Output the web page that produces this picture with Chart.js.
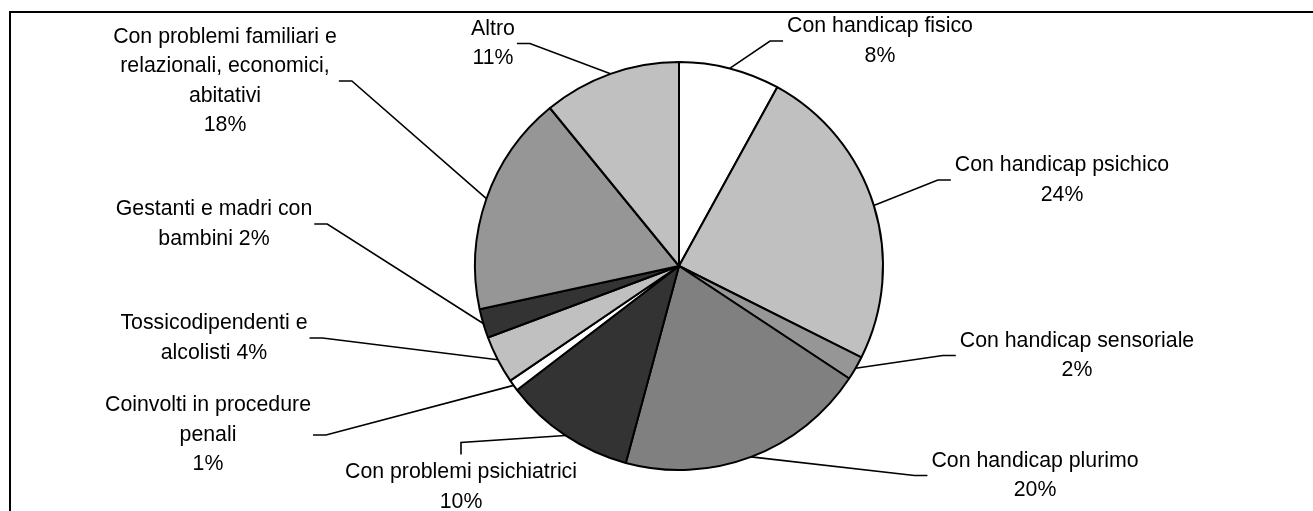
<!DOCTYPE html>
<html>
<head>
<meta charset="utf-8">
<title>Utenti per tipologia</title>
<script src="https://cdn.jsdelivr.net/npm/chart.js@4.4.1/dist/chart.umd.min.js"></script>
<style>
  html, body { margin: 0; padding: 0; background: #fff; overflow: hidden; }
  #wrap { position: relative; width: 1313px; height: 511px; }
  #frame { position: absolute; left: 9px; top: 11px; width: 1330px; height: 530px;
           border: 2px solid #000; box-sizing: border-box; pointer-events: none; }
</style>
</head>
<body>
<div id="wrap">
  <canvas id="chart" width="1313" height="511"></canvas>
  <div id="frame"></div>
</div>
<script>
// categories, clockwise from 12 o'clock
const categories = [
  "Con handicap fisico",
  "Con handicap psichico",
  "Con handicap sensoriale",
  "Con handicap plurimo",
  "Con problemi psichiatrici",
  "Coinvolti in procedure penali",
  "Tossicodipendenti e alcolisti",
  "Gestanti e madri con bambini",
  "Con problemi familiari e relazionali, economici, abitativi",
  "Altro"
];

// share of users (%)
const shares = [8.0, 24.4, 1.9, 19.9, 10.4, 0.9, 3.8, 2.3, 17.5, 10.9];

// how each label is wrapped, {p} = percentage
const labelLines = [
  ["Con handicap fisico", "{p}"],
  ["Con handicap psichico", "{p}"],
  ["Con handicap sensoriale", "{p}"],
  ["Con handicap plurimo", "{p}"],
  ["Con problemi psichiatrici", "{p}"],
  ["Coinvolti in procedure", "penali", "{p}"],
  ["Tossicodipendenti e", "alcolisti {p}"],
  ["Gestanti e madri con", "bambini {p}"],
  ["Con problemi familiari e", "relazionali, economici,", "abitativi", "{p}"],
  ["Altro", "{p}"]
];

const sliceColors = ["#FFFFFF", "#C0C0C0", "#969696", "#808080", "#333333",
                     "#FFFFFF", "#C0C0C0", "#333333", "#969696", "#C0C0C0"];

// label block centres (layout only) and which side the leader attaches to
const labelPos = [
  { x: 880,  y: 41,    side: "right" },
  { x: 1062, y: 180,   side: "right" },
  { x: 1077, y: 355.5, side: "right" },
  { x: 1035, y: 475.5, side: "right" },
  { x: 461,  y: 487,   side: "top" },
  { x: 208,  y: 435,   side: "left" },
  { x: 214,  y: 338,   side: "left" },
  { x: 214,  y: 224,   side: "left" },
  { x: 225,  y: 81,    side: "left" },
  { x: 493,  y: 43.5,  side: "left" }
];

const FONT = '21.3px "Liberation Sans", Arial, sans-serif';
const LINE_H = 29.5;

const leaderLabels = {
  id: "leaderLabels",
  afterDatasetsDraw(chart) {
    const ctx = chart.ctx;
    const arcs = chart.getDatasetMeta(0).data;
    const total = shares.reduce((a, b) => a + b, 0);
    ctx.save();
    ctx.font = FONT;
    ctx.fillStyle = "#000";
    ctx.strokeStyle = "#000";
    ctx.lineWidth = 1.6;
    ctx.textAlign = "center";
    ctx.textBaseline = "middle";
    arcs.forEach((arc, i) => {
      const p = arc.getProps(["x", "y", "startAngle", "endAngle", "outerRadius"], true);
      const mid = (p.startAngle + p.endAngle) / 2;
      const ax = p.x + Math.cos(mid) * p.outerRadius;
      const ay = p.y + Math.sin(mid) * p.outerRadius;
      const pct = Math.round(shares[i] / total * 100) + "%";
      const lines = labelLines[i].map(s => s.replace("{p}", pct));
      const pos = labelPos[i];
      const w = Math.max(...lines.map(l => ctx.measureText(l).width));
      const h = lines.length * LINE_H;

      let sx, sy, tx, ty;
      if (pos.side === "left") {
        sx = pos.x + w / 2 + 2; sy = pos.y; tx = sx + 13; ty = sy;
      } else if (pos.side === "right") {
        sx = pos.x - w / 2 - 4; sy = pos.y; tx = sx - 13; ty = sy;
      } else {
        sx = pos.x; sy = pos.y - h / 2 - 3; tx = sx; ty = sy - 12;
      }
      ctx.beginPath();
      ctx.moveTo(ax, ay);
      ctx.lineTo(tx, ty);
      ctx.lineTo(sx, sy);
      ctx.stroke();

      lines.forEach((l, k) => {
        ctx.fillText(l, pos.x, pos.y - h / 2 + LINE_H * (k + 0.5));
      });
    });
    ctx.restore();
  }
};

new Chart(document.getElementById("chart"), {
  type: "pie",
  data: {
    labels: categories,
    datasets: [{
      data: shares,
      backgroundColor: sliceColors,
      borderColor: "#000",
      borderWidth: 2,
      hoverOffset: 0
    }]
  },
  options: {
    responsive: false,
    animation: false,
    events: [],
    layout: { padding: { left: 474, right: 429, top: 61, bottom: 40 } },
    plugins: {
      legend: { display: false },
      tooltip: { enabled: false }
    }
  },
  plugins: [leaderLabels]
});
</script>
</body>
</html>
